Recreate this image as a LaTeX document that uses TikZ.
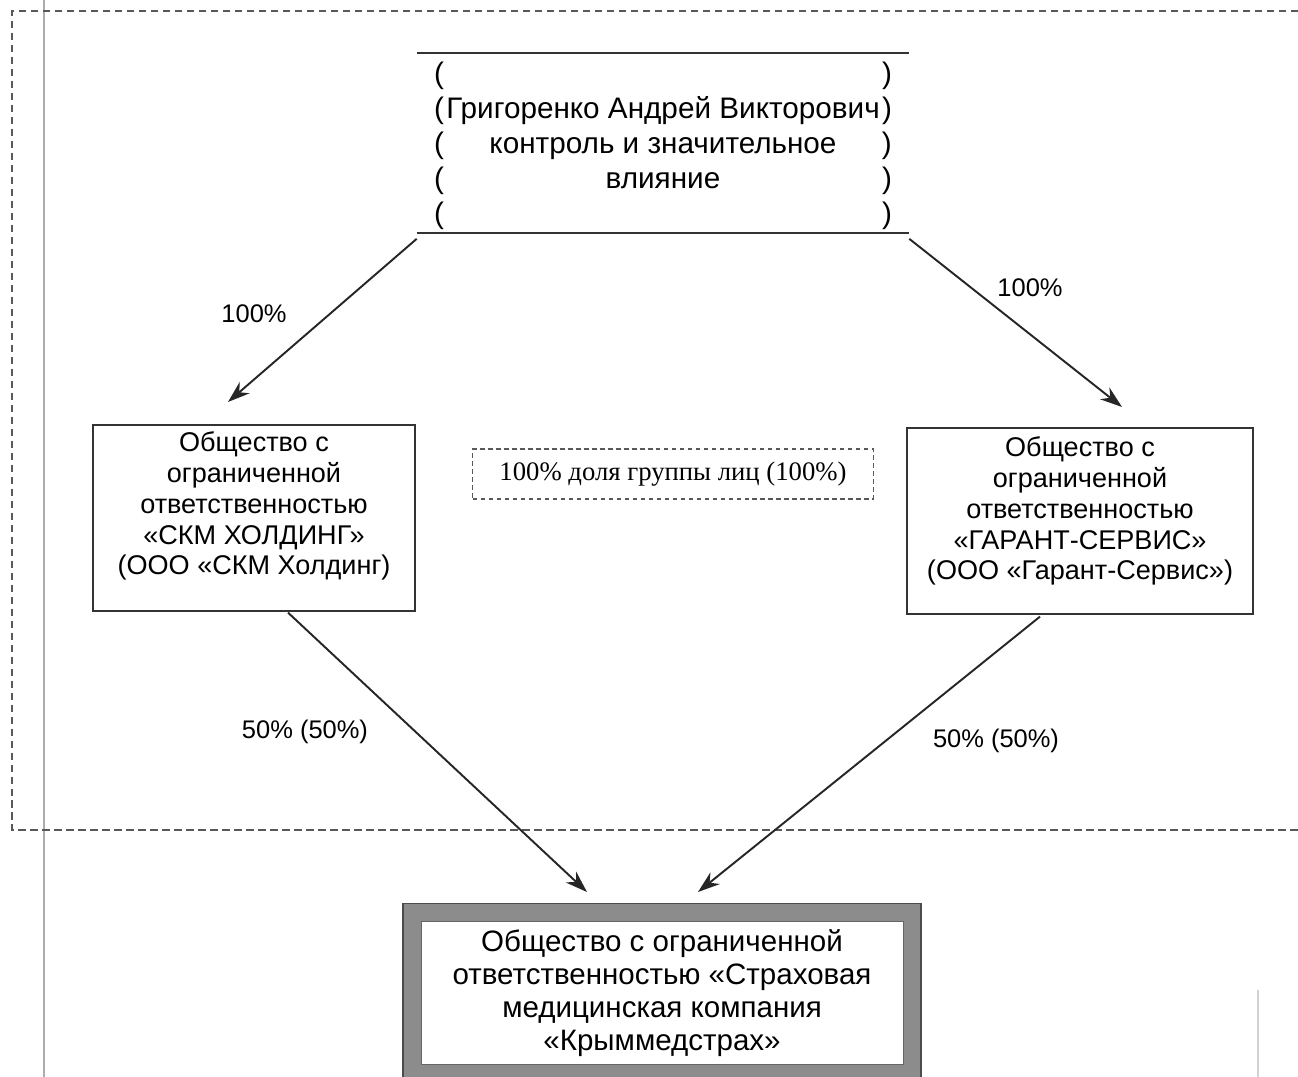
\documentclass[tikz,border=0pt]{standalone}
\usepackage{fontspec}
\setmainfont{Liberation Sans}
\newfontfamily\timesfont{Liberation Serif}
\usetikzlibrary{positioning,arrows.meta,calc}

% one line of the owner block, framed by brackets
\newcommand{\bracketline}[1]{\makebox[9.16cm]{(\hfill#1\hfill)}}

\tikzset{
  firm/.style={draw=black!80, line width=0.7pt, inner sep=0pt},
  firmtext/.style={align=center, inner sep=0pt, font=\fontsize{15.4}{17.6}\selectfont},
  link/.style={-{Stealth[length=0.44cm,width=0.3cm]}, line width=1.1pt, black!85},
  share/.style={font=\fontsize{14.5}{17}\selectfont, inner sep=0pt},
  groupframe/.style={gray!70!black, line width=0.9pt, dash pattern=on 0.15cm off 0.09cm},
}

\begin{document}
\begin{tikzpicture}[x=0.02cm,y=-0.02cm]
\useasboundingbox (0,0) rectangle (1298,1077);
% page margin line and group border
\draw[gray!65, line width=1.4pt] (44,0) -- (44,1077);
\draw[gray!35, line width=0.6pt] (1258,990) -- (1258,1077);
\draw[groupframe] (1298,11) -- (12,11) -- (12,830) -- (1298,830);
% owner
\node[minimum width=9.84cm, minimum height=3.58cm, inner sep=0pt, align=center,
      font=\fontsize{16.9}{19.9}\selectfont] (owner) at (663,146)
  {\bracketline{}\\ \bracketline{Григоренко Андрей Викторович}\\
   \bracketline{контроль и значительное}\\ \bracketline{влияние}\\ \bracketline{}};
\draw[black!80, line width=0.8pt] ($(owner.north west)+(0,-3)$) -- ($(owner.north east)+(0,-3)$);
\draw[black!80, line width=0.8pt] ($(owner.south west)+(0,-3)$) -- ($(owner.south east)+(0,-3)$);
% subsidiaries
\node[firm, minimum width=6.44cm, minimum height=3.72cm] (skm) at (254,518) {};
\node[firmtext] (skmname) at (254,506)
  {Общество с\\ ограниченной\\ ответственностью\\ «СКМ ХОЛДИНГ»\\ (ООО «СКМ Холдинг)};
\node[firm, minimum width=6.92cm, minimum height=3.72cm] (garant) at (1080,521) {};
\node[firmtext] (garantname) at (1080,511)
  {Общество с\\ ограниченной\\ ответственностью\\ «ГАРАНТ-СЕРВИС»\\ (ООО «Гарант-Сервис»)};
% group share
\node[draw=gray!70!black, line width=0.7pt, dash pattern=on 0.09cm off 0.07cm,
      minimum width=8.02cm, minimum height=1cm, inner sep=0pt,
      font=\timesfont\fontsize{15.2}{18}\selectfont] (group) at (673,474)
  {100\% доля группы лиц (100\%)\hspace{0.2cm}};
% insurer
\node[draw=black!45, line width=0.36cm, fill=white, minimum width=10cm, minimum height=3.22cm,
      inner sep=0pt, align=center, font=\fontsize{16.8}{18.8}\selectfont] (smk) at (662,993)
  {Общество с ограниченной\\ ответственностью «Страховая\\ медицинская компания\\ «Крыммедстрах»};
\draw[black!70, line width=0.8pt] (smk.north west) rectangle (smk.south east);
\draw[black!60, line width=0.5pt] ($(smk.north west)+(18,18)$) rectangle ($(smk.south east)+(-18,-18)$);
% arrow ends
\coordinate (skmin) at (228,402);
\coordinate (garantin) at (1122,407);
\coordinate (smkleft) at (587,892);
\coordinate (smkright) at (698,892);
% shares
\draw[link] ($(owner.south west)+(0,3)$) -- (skmin);
\draw[link] ($(owner.south east)+(0,3)$) -- (garantin);
\draw[link] ($(skm.south)+(34,1)$) -- (smkleft);
\draw[link] ($(garant.south)+(-40,2)$) -- (smkright);
\node[share] (pctskm) at (254,314) {100\%};
\node[share] (pctgarant) at (1030,288) {100\%};
\node[share] (halfskm) at (305,732) {50\% (50\%)};
\node[share] (halfgarant) at (996,741) {50\% (50\%)};
\end{tikzpicture}
\end{document}
